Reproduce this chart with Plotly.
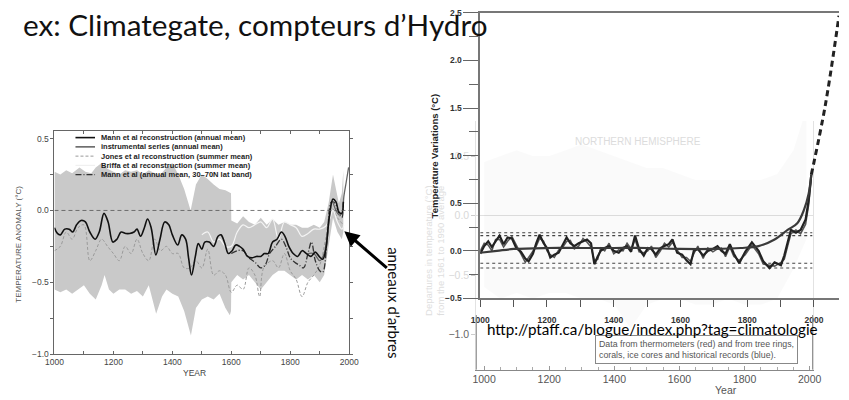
import plotly.graph_objects as go

# ---------------- Left chart (Mann et al.) ----------------
mann_years = [1000,1010,1020,1035,1050,1062,1075,1090,1105,1120,1138,1152,1168,1182,1198,1212,1226,1242,1255,1270,
              1280,1292,1305,1316,1328,1344,1358,1374,1388,1400,1418,1432,1445,1455,1465,1478,1488,1500,1510,1525,
              1540,1555,1565,1578,1590,1603,1615,1628,1640,1655,1670,1685,1700,1712,1725,1740,1755,1770,1782,1795,
              1810,1825,1840,1855,1870,1885,1898,1910,1920,1932,1945,1955,1965,1975,1980]
mann_vals = [-0.12,-0.16,-0.17,-0.13,-0.13,-0.15,-0.10,-0.07,-0.08,-0.15,-0.20,-0.15,-0.02,-0.08,-0.22,-0.20,-0.15,-0.16,-0.16,-0.15,
             -0.13,-0.18,-0.12,-0.06,-0.12,-0.31,-0.20,-0.08,-0.10,-0.17,-0.24,-0.17,-0.20,-0.33,-0.45,-0.32,-0.23,-0.27,-0.22,-0.22,
             -0.25,-0.18,-0.17,-0.23,-0.30,-0.28,-0.24,-0.25,-0.27,-0.32,-0.33,-0.32,-0.32,-0.30,-0.30,-0.22,-0.20,-0.15,-0.18,-0.25,
             -0.30,-0.32,-0.28,-0.30,-0.32,-0.29,-0.32,-0.34,-0.28,-0.05,0.08,0.06,-0.01,-0.02,0.06]

instr_years = [1860,1880,1900,1915,1930,1942,1955,1965,1975,1982,1990,1998]
instr_vals = [-0.30,-0.30,-0.35,-0.30,-0.10,0.06,0.00,-0.03,-0.02,0.10,0.20,0.30]

jones_years = [1000,1020,1040,1060,1080,1100,1120,1140,1160,1180,1200,1220,1240,1260,1280,1300,1320,1340,1360,1380,
               1400,1420,1440,1460,1480,1500,1520,1540,1560,1580,1600,1620,1640,1660,1680,1696,1710,1740,1760,1780,
               1800,1820,1840,1860,1880,1900,1920,1940,1960,1980]
jones_vals = [-0.28,-0.25,-0.15,-0.20,-0.12,-0.10,-0.35,-0.28,-0.20,-0.25,-0.30,-0.35,-0.25,-0.30,-0.20,-0.30,-0.35,-0.20,-0.28,-0.25,
              -0.30,-0.30,-0.40,-0.40,-0.35,-0.40,-0.27,-0.45,-0.42,-0.45,-0.57,-0.52,-0.55,-0.40,-0.45,-0.60,-0.40,-0.35,-0.40,-0.30,
              -0.42,-0.48,-0.60,-0.50,-0.45,-0.38,-0.20,0.02,-0.05,-0.10]

briffa_years = [1500,1520,1540,1560,1580,1600,1620,1640,1660,1680,1700,1720,1740,1760,1780,1800,1820,1840,1860,1880,
                1900,1920,1935,1945,1960,1975,1982]
briffa_vals = [-0.17,-0.15,-0.22,-0.20,-0.25,-0.25,-0.15,-0.10,-0.12,-0.10,-0.08,-0.12,-0.06,-0.20,-0.08,-0.10,-0.12,-0.18,-0.16,-0.13,
               -0.13,-0.11,-0.05,0.00,-0.08,-0.13,-0.10]

band_years_up = [1000,1020,1040,1060,1085,1105,1125,1140,1160,1180,1200,1220,1240,1260,1280,1300,1320,1340,1360,1380,
                 1400,1420,1440,1462,1480,1500,1520,1540,1560,1580,1599,1600,1620,1640,1660,1680,1700,1720,1740,1760,
                 1780,1800,1820,1840,1860,1880,1900,1915,1930,1945,1955,1965,1975,1980]
band_up = [0.27,0.25,0.28,0.26,0.30,0.27,0.26,0.30,0.33,0.29,0.27,0.25,0.28,0.27,0.28,0.25,0.28,0.26,0.25,0.30,
           0.33,0.25,0.15,0.00,0.18,0.25,0.22,0.18,0.15,0.14,0.12,-0.07,-0.09,-0.04,-0.08,-0.10,-0.05,-0.10,-0.06,-0.10,
           -0.08,-0.10,-0.10,-0.12,-0.12,-0.10,-0.12,-0.08,0.05,0.25,0.15,0.05,0.12,0.28]
band_years_lo = [1000,1020,1040,1060,1080,1100,1120,1140,1160,1170,1185,1200,1220,1240,1260,1280,1300,1320,1345,1365,
                 1380,1400,1420,1440,1463,1480,1500,1520,1540,1560,1580,1595,1599,1600,1620,1640,1660,1680,1700,1720,
                 1740,1760,1780,1800,1820,1840,1860,1880,1900,1915,1930,1945,1960,1975,1980]
band_lo = [-0.55,-0.57,-0.55,-0.58,-0.55,-0.52,-0.58,-0.62,-0.52,-0.45,-0.55,-0.58,-0.55,-0.55,-0.58,-0.56,-0.60,-0.52,-0.72,-0.60,
           -0.55,-0.58,-0.60,-0.70,-0.87,-0.68,-0.62,-0.60,-0.62,-0.58,-0.68,-0.73,-0.70,-0.50,-0.45,-0.48,-0.45,-0.50,-0.55,-0.50,
           -0.45,-0.42,-0.42,-0.45,-0.48,-0.45,-0.48,-0.45,-0.50,-0.45,-0.25,-0.05,-0.15,-0.20,-0.15]

band_n_years = [1600,1620,1640,1660,1680,1700,1715,1730,1750,1770,1785,1800,1815,1830,1845,1860,1872,1885,1900,1910,
                1925,1940,1952,1965,1975,1980]
band_n_vals = [-0.30,-0.28,-0.28,-0.33,-0.36,-0.40,-0.38,-0.30,-0.25,-0.20,-0.25,-0.33,-0.36,-0.38,-0.40,-0.30,-0.22,-0.35,-0.42,-0.43,
               -0.20,0.06,0.05,-0.02,-0.05,0.05]

left_xticks = [1000, 1200, 1400, 1600, 1800, 2000]
left_yticks = [-1.0, -0.5, 0.0, 0.5]
left_yticktext = ["\u22121.0", "\u22120.5", "0.0", "0.5"]
legend_labels = ["Mann et al reconstruction (annual mean)",
                 "instrumental series (annual mean)",
                 "Jones et al reconstruction (summer mean)",
                 "Briffa et al reconstruction (summer mean)",
                 "Mann et al (annual mean, 30\u201370N lat band)"]

# ---------------- Right chart: faded inner (IPCC) ----------------
inner_years = [1000,1050,1100,1150,1200,1250,1300,1350,1400,1450,1500,1550,1600,1650,1700,1750,1800,1850,1900,1950,1990]
inner_up = [0.45,0.50,0.55,0.50,0.50,0.55,0.60,0.55,0.50,0.45,0.40,0.40,0.35,0.30,0.30,0.30,0.30,0.30,0.35,0.55,0.90]
inner_lo = [-0.60,-0.70,-0.65,-0.70,-0.65,-0.65,-0.70,-0.70,-0.75,-0.95,-0.75,-0.70,-0.70,-0.75,-0.75,-0.70,-0.75,-0.75,-0.70,-0.45,-0.20]
inner_xticks = [1000, 1200, 1400, 1600, 1800, 2000]
inner_yticks = [-1.0, -0.5, 0.0, 0.5]

# ---------------- Right chart: outer (hockey stick) ----------------
outer_years = [1000,1012,1024,1035,1046,1058,1070,1082,1095,1108,
               1122,1135,1145,1158,1168,1178,1190,1200,1210,1222,
               1235,1248,1259,1270,1282,1295,1308,1320,1332,1342,
               1352,1361,1373,1386,1400,1415,1428,1440,1452,1464,
               1476,1490,1502,1513,1526,1540,1552,1565,1576,1590,
               1605,1618,1630,1640,1652,1668,1682,1697,1711,1723,
               1735,1748,1760,1776,1794,1814,1834,1848,1867,1882,
               1901,1911,1922,1931,1946,1960,1975,1984,1992]
outer_a = [-0.03,0.05,0.10,0.04,0.10,0.16,0.07,0.14,0.13,0.03,
           -0.01,-0.08,-0.11,-0.03,0.08,0.17,0.08,0.03,-0.07,-0.04,
           -0.02,0.06,0.14,0.08,0.05,0.08,0.10,0.12,0.08,-0.14,
           -0.06,0.00,0.03,0.05,0.00,-0.02,0.03,0.05,-0.01,0.16,
           0.02,-0.05,0.03,0.02,-0.04,0.03,0.05,0.07,0.12,-0.02,
           -0.04,-0.10,-0.14,0.00,0.02,-0.05,0.00,0.02,0.05,0.00,
           -0.03,0.07,-0.03,-0.13,-0.01,0.09,0.00,-0.11,-0.18,-0.12,
           -0.15,-0.05,0.10,0.22,0.19,0.22,0.33,0.53,0.80]
outer_b = [0.00,0.08,0.06,0.00,0.12,0.12,0.04,0.10,0.15,0.06,
           -0.04,-0.12,-0.07,0.00,0.05,0.13,0.10,0.00,-0.04,-0.07,
           0.01,0.04,0.10,0.11,0.02,0.05,0.13,0.09,0.04,-0.10,
           -0.09,0.03,0.00,0.08,-0.03,0.01,0.00,0.08,0.02,0.12,
           -0.01,-0.02,0.00,0.05,-0.07,0.00,0.08,0.04,0.09,0.01,
           -0.07,-0.07,-0.11,-0.03,0.05,-0.08,0.03,-0.01,0.02,0.03,
           -0.06,0.04,-0.06,-0.10,-0.04,0.06,-0.03,-0.14,-0.15,-0.16,
           -0.12,-0.09,0.06,0.18,0.22,0.18,0.28,0.48,0.76]
smooth_years = [1000,1050,1100,1200,1300,1400,1500,1600,1700,1780,1834,1882,1921,1950,1970,1984,1992]
smooth_vals = [-0.02,0.00,0.02,0.03,0.03,0.03,0.03,0.02,0.02,0.03,0.05,0.12,0.22,0.29,0.43,0.60,0.80]
proj_years = [1992, 2034, 2075]
proj_vals = [0.80, 1.53, 2.47]
dotted_levels = [0.19, 0.16, -0.13, -0.18]
dotted_span = [1000, 1995]
outer_xticks = [1000, 1200, 1400, 1600, 1800, 2000]
outer_yticks = [-0.5, 0.0, 0.5, 1.0, 1.5, 2.0, 2.5]

W, H = 849, 400
def px(x): return x / W
def py(y): return 1 - y / H

fig = go.Figure()

# left chart traces
fig.add_trace(go.Scatter(x=band_years_up + band_years_lo[::-1], y=band_up + band_lo[::-1],
                         fill="toself", fillcolor="#c9c9c9", line=dict(width=0), mode="lines",
                         xaxis="x", yaxis="y", hoverinfo="skip"))
fig.add_trace(go.Scatter(x=jones_years, y=jones_vals, mode="lines",
                         line=dict(color="#9a9a9a", width=1, dash="3px,2px", shape="spline"),
                         xaxis="x", yaxis="y"))
fig.add_trace(go.Scatter(x=briffa_years, y=briffa_vals, mode="lines", line=dict(color="#f4f4f4", width=1.2, shape="spline"),
                         xaxis="x", yaxis="y"))
fig.add_trace(go.Scatter(x=band_n_years, y=band_n_vals, mode="lines",
                         line=dict(color="#333", width=1.3, dash="6px,2px,1px,2px", shape="spline"),
                         xaxis="x", yaxis="y"))
fig.add_trace(go.Scatter(x=instr_years, y=instr_vals, mode="lines", line=dict(color="#666", width=1.3, shape="spline"),
                         xaxis="x", yaxis="y"))
fig.add_trace(go.Scatter(x=mann_years, y=mann_vals, mode="lines", line=dict(color="#111", width=1.6, shape="spline"),
                         xaxis="x", yaxis="y"))
fig.add_trace(go.Scatter(x=[1000, 2000], y=[0, 0], mode="lines", line=dict(color="#555", width=0.8, dash="4px,3px"),
                         xaxis="x", yaxis="y"))

# inner faded chart
fig.add_trace(go.Scatter(x=inner_years + inner_years[::-1], y=inner_up + inner_lo[::-1],
                         fill="toself", fillcolor="rgba(0,0,0,0.018)", line=dict(width=0), mode="lines",
                         xaxis="x2", yaxis="y2"))

# outer chart
for lv in dotted_levels:
    fig.add_trace(go.Scatter(x=dotted_span, y=[lv, lv], mode="lines", line=dict(color="#444", width=1.2, dash="dot"),
                             xaxis="x3", yaxis="y3"))
fig.add_trace(go.Scatter(x=outer_years, y=outer_b, mode="lines", line=dict(color="#555", width=1.5),
                         xaxis="x3", yaxis="y3"))
fig.add_trace(go.Scatter(x=outer_years, y=outer_a, mode="lines", line=dict(color="#222", width=2.2),
                         xaxis="x3", yaxis="y3"))
fig.add_trace(go.Scatter(x=smooth_years, y=smooth_vals, mode="lines", line=dict(color="#3a3a3a", width=2.2, shape="spline"),
                         xaxis="x3", yaxis="y3"))
fig.add_trace(go.Scatter(x=proj_years, y=proj_vals, mode="lines", line=dict(color="#222", width=3, dash="6px,4px", shape="spline"),
                         xaxis="x3", yaxis="y3"))

small = dict(family="Liberation Sans, Arial", size=8.5, color="#444")

fig.update_layout(
    width=W, height=H, margin=dict(l=0, r=0, t=0, b=0),
    paper_bgcolor="white", plot_bgcolor="rgba(0,0,0,0)", showlegend=False,
    xaxis=dict(domain=[px(46.5), px(348)], range=[1000, 2000], anchor="y",
               tickvals=left_xticks, ticks="inside", ticklen=3, tickcolor="#666",
               minor=dict(dtick=100, ticks="inside", ticklen=3, tickcolor="#666"),
               showline=True, linecolor="#666", linewidth=1, mirror="ticks",
               showgrid=False, zeroline=False, tickfont=small),
    yaxis=dict(domain=[1 - 358 / H, 1 - 129 / H], range=[-1.0, 0.555], anchor="x",
               tickvals=left_yticks, ticktext=left_yticktext, ticks="outside", ticklen=3, tickcolor="#666",
               minor=dict(dtick=0.25, ticks="outside", ticklen=3, tickcolor="#666"),
               showline=True, linecolor="#666", linewidth=1, mirror="ticks",
               showgrid=False, zeroline=False, tickfont=small),
    xaxis2=dict(domain=[px(478), px(822)], range=[976, 2009], anchor="y2",
                tickvals=inner_xticks, ticks="inside", ticklen=4, tickcolor="#999",
                minor=dict(dtick=50, ticks="inside", ticklen=3, tickcolor="#aaa"),
                showline=True, linecolor="#888", linewidth=1,
                showgrid=False, zeroline=False,
                tickfont=dict(family="Liberation Sans, Arial", size=10.5, color="#555")),
    yaxis2=dict(domain=[1 - 374 / H, 1 - 119 / H], range=[-1.295, 0.795], anchor="x2",
                tickvals=inner_yticks,
                ticktext=["\u22121.0", "<span style='color:#d8d8d8'>\u22120.5</span>",
                          "<span style='color:#d8d8d8'>0.0</span>", "<span style='color:#e0e0e0'>0.5</span>"],
                ticks="outside", ticklen=4, tickcolor="#ccc",
                showline=True, linecolor="#e2e2e2", linewidth=1, mirror=True,
                showgrid=False, zeroline=True, zerolinecolor="#e0e0e0", zerolinewidth=1,
                tickfont=dict(family="Liberation Sans, Arial", size=10.5, color="#666")),
    xaxis3=dict(domain=[px(482), 1.0], range=[1000, 2075], anchor="y3",
                tickvals=outer_xticks, ticks="outside", ticklen=7, tickcolor="#555", tickwidth=1.3,
                minor=dict(dtick=100, ticks="outside", ticklen=7, tickcolor="#555"),
                showline=True, linecolor="#777", linewidth=1.5, mirror=True,
                showgrid=False, zeroline=False, ticklabelstandoff=6,
                tickfont=dict(family="Liberation Sans, Arial", size=8.5, color="#333", weight="bold")),
    yaxis3=dict(domain=[1 - 301 / H, 1 - 8 / H], range=[-0.5, 2.5], anchor="x3",
                tickvals=outer_yticks, tickformat=".1f", ticks="outside", ticklen=15, tickcolor="#666", tickwidth=1.3,
                minor=dict(dtick=0.25, ticks="outside", ticklen=9, tickcolor="#666"),
                showline=True, linecolor="#777", linewidth=1.5,
                showgrid=False, zeroline=False,
                tickfont=dict(family="Liberation Sans, Arial", size=8.5, color="#333", weight="bold")),
)

shapes = []
# dark lower parts of the inner frame (outside the faded overlay)
shapes.append(dict(type="line", xref="paper", yref="paper", x0=px(478), x1=px(478), y0=py(374), y1=py(318),
                   line=dict(color="#888", width=1)))
shapes.append(dict(type="line", xref="paper", yref="paper", x0=px(822), x1=px(822), y0=py(374), y1=py(318),
                   line=dict(color="#888", width=1)))
# left legend samples
leg_rows = [136, 145.5, 155, 164.5, 174]
leg_styles = [dict(color="#111", width=1.6), dict(color="#666", width=1.6), dict(color="#9a9a9a", width=1, dash="3px,2px"),
              dict(color="#f0f0f0", width=1.2), dict(color="#333", width=1.3, dash="6px,2px,1px,2px")]
for yy, st in zip(leg_rows, leg_styles):
    shapes.append(dict(type="line", xref="paper", yref="paper", x0=px(68), x1=px(88), y0=py(yy), y1=py(yy), line=st))
fig.update_layout(shapes=shapes)

def note(text, x, y, size, color, family="Liberation Sans, Arial", xanchor="center", angle=0, weight="normal", **kw):
    d = dict(text=text, x=px(x), y=py(y), xref="paper", yref="paper", xanchor=xanchor, yanchor="middle",
             showarrow=False, textangle=angle, font=dict(family=family, size=size, color=color, weight=weight))
    d.update(kw)
    return d

ann = []
ann.append(note("ex: Climategate, compteurs d\u2019Hydro", 12, 20, 29.7, "#111", family="Lato, Open Sans", xanchor="left"))
for yy, lab in zip(leg_rows, legend_labels):
    ann.append(note(lab, 92, yy, 7.5, "#222", xanchor="left", weight="bold"))
ann.append(note("TEMPERATURE ANOMALY (\u00b0C)", 10, 245, 8, "#555", angle=-90))
ann.append(note("YEAR", 190, 377, 8.5, "#444"))
ann.append(note("anneaux d\u2019arbres", 393, 305, 15, "#111", family="Lato, Open Sans", angle=90))
ann.append(dict(text="", x=px(343), y=py(232), xref="paper", yref="paper", showarrow=True,
                ax=44, ay=38, arrowhead=2, arrowsize=1, arrowwidth=3, arrowcolor="#000"))
ann.append(note("Temperature Variations (\u00b0C)", 435, 155, 9.5, "#222", angle=-90, weight="bold"))
ann.append(note("Departures in temperature (\u00b0C)<br>from the 1961 to 1990 average", 435, 252, 9.5, "#dedede", angle=-90))
ann.append(note("NORTHERN HEMISPHERE", 643, 140, 10, "#dcdcdc"))
ann.append(note("Data from thermometers (red) and from tree rings,<br>corals, ice cores and historical records (blue).",
                703, 353, 8.8, "#555", align="left", bordercolor="#888", borderwidth=1, borderpad=3, bgcolor="white"))
ann.append(note("Year", 733, 395, 10.5, "#555"))
ann.append(note("http://ptaff.ca/blogue/index.php?tag=climatologie", 487, 332, 15.2, "#000",
                family="Lato, Open Sans", xanchor="left"))
fig.update_layout(annotations=ann)

fig.write_html("out.html", config={"displayModeBar": False},
               post_script="document.body.style.margin='0px';document.body.style.padding='0px';")
